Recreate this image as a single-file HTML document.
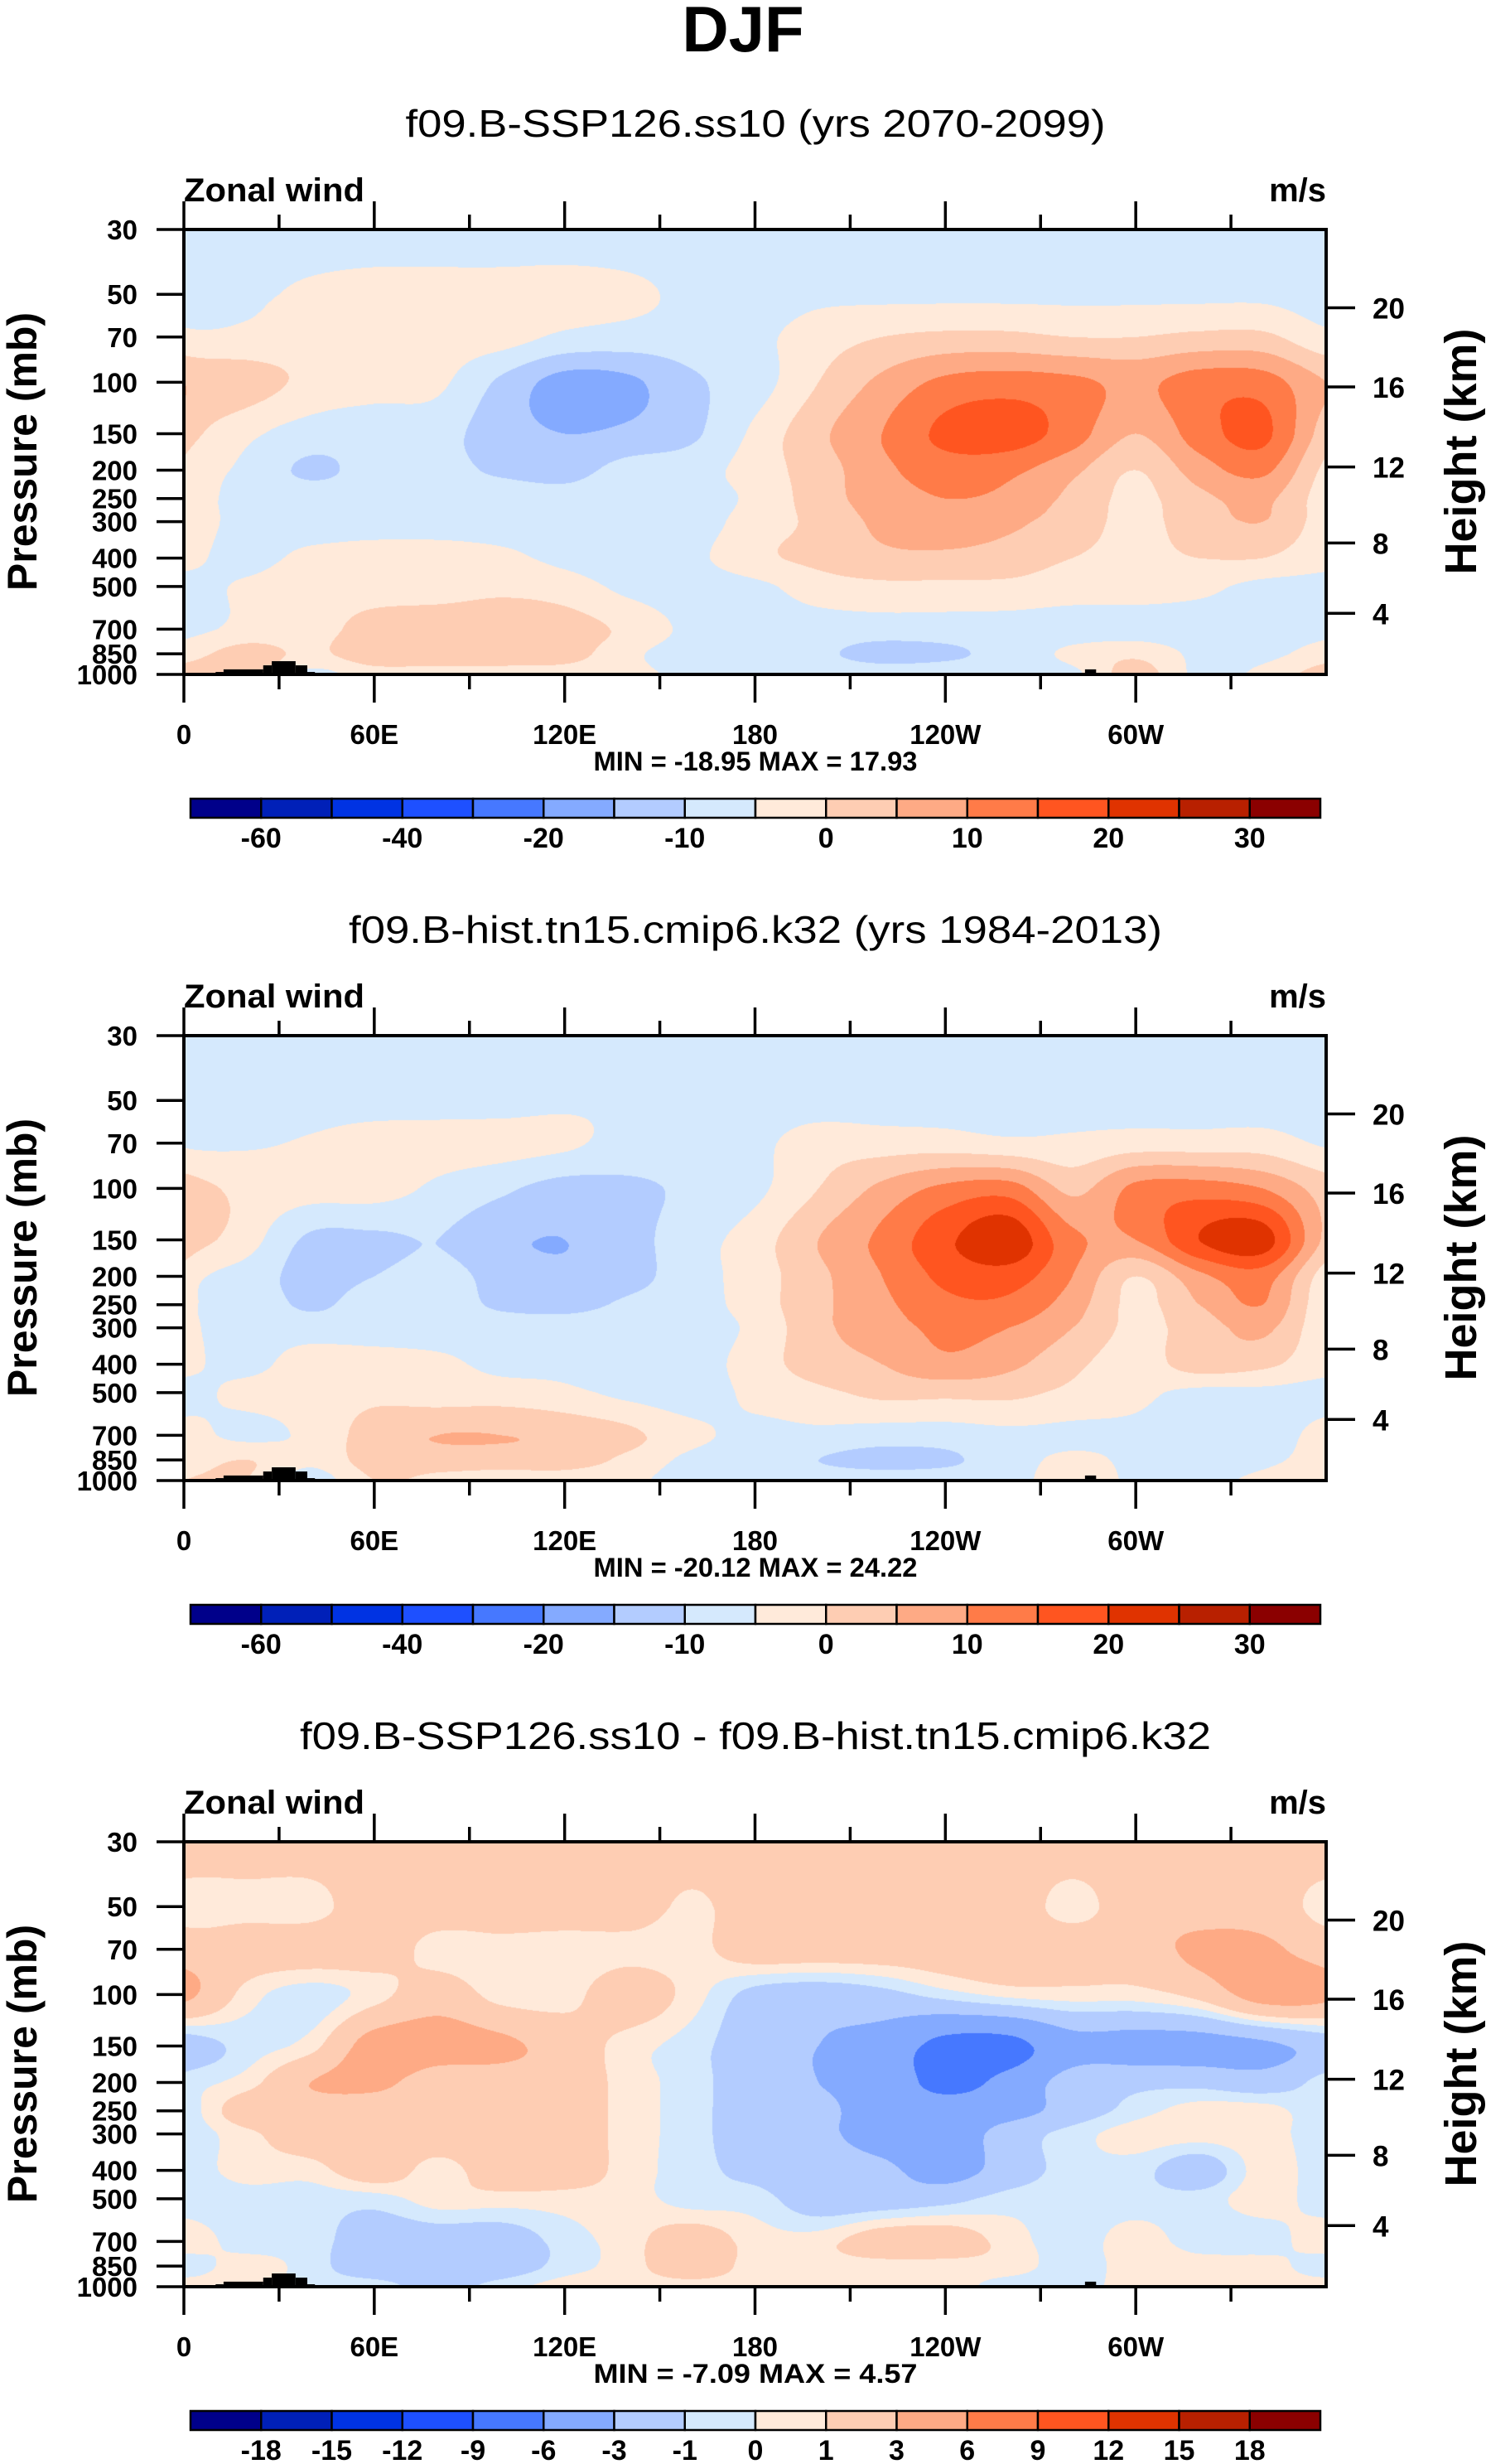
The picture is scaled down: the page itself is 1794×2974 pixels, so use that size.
<!DOCTYPE html>
<html><head><meta charset="utf-8">
<style>
html,body{margin:0;padding:0;background:#fff;}
#root{position:relative;width:1794px;height:2974px;overflow:hidden;background:#fff;}
canvas{position:absolute;}
svg{position:absolute;left:0;top:0;}
text{font-family:"Liberation Sans",sans-serif;fill:#000;}
</style></head>
<body>
<div id="root">
<svg id="svg" width="1794" height="2974">
<text x="897" y="62" font-size="78" font-weight="bold" text-anchor="middle">DJF</text>
</svg>
</div>
<script>
// ---------- data ----------
const lons = [0,20,40,60,80,100,120,140,160,180,200,220,240,260,280,300,320,340,360];
const levels = [30,50,70,100,150,200,250,300,400,500,700,850,1000];
const xTickLabels = ["0","60E","120E","180","120W","60W"];
const xTickLons = [0,60,120,180,240,300];
const kmLabels = ["20","16","12","8","4"];
const kmPressures = [55.6,103.7,195,355,618];

const fieldA = [
[-3,-3,-3,-3,-3,-3,-3,-3,-3,-3,-3,-3,-3,-3,-3,-3,-3,-3,-3],
[-2,-1,1,2,2,2,2,1,-1,-2,-1,-1,-1,-1,-1,-1,-1,-1,-1],
[1,1,2,2,2,2,-1,-2,-2,-1,2,4,5,5,4,4,5,5,4],
[8,6,3,2,1,-6,-12,-11,-6,-2,4,9,13,14,13,11,14,14,10],
[6,1,-2,-3,-3,-8,-10,-9,-6,1,7,12,17,18,14,8,14,17,9],
[3,-1,-6,-3,-3,-6,-7,-3,-2,2,6,11,14,13,9,4,10,13,7],
[2,-1,-2,-2,-2,-2,-3,-2,-2,1,6,10,12,11,7,3,7,9,5],
[2,-1,-2,-2,-2,-2,-2,-2,-2,2,5,9,11,9,6,3,6,8,4],
[1,-1,1,2,2,1,-1,-2,-1,3,5,7,7,6,4,3,4,4,3],
[-1,0.5,2,2,2,3,2,-1,-2,-1,2,3,3,3,2,2,1,-1,-1],
[-1,1,2,6,7,7,6,3,-1,-2,-2,-2,-2,-2,-2,-2,-2,-1,-1],
[2,6,3,7,7,7,6,1,-2,-3,-4,-7,-6,-3,1,3,-1,-1,1],
[6,6,-1,2,2,2,2,1,-1,-2,-2,-2,-2,-2,-1,6,-1,1,2]
];
const fieldB = [
[-3,-3,-3,-3,-3,-3,-3,-3,-3,-3,-3,-3,-3,-3,-3,-3,-3,-3,-3],
[-2,-2,-2,-2,-2,-2,-1,-1,-2,-2,-2,-2,-2,-2,-2,-2,-2,-2,-2],
[-0.5,-0.5,0.5,2,2,2,1,-2,-2,-1,2,2,2,1,1,2,2,2,-0.5],
[6,3,2,2,-1,-4,-7,-6,-4,-1,4,9,13,14,7,13,14,12,7],
[7,2,-6,-6,-5,-9,-10,-7,-2,2,8,13,19,23,13,12,20,22,10],
[2,-2,-7,-5,-3,-7,-9,-7,-2,2,7,12,17,18,12,4,11,14,9],
[1,-1,-6,-2,-2,-6,-7,-4,-2,2,7,11,15,15,10,3,8,12,8],
[1,-1,-2,-2,-2,-2,-2,-2,-2,1,7,10,13,12,8,3,6,9,6],
[1,-1,2,2,1,-1,-1,-2,-2,2,6,8,11,9,5,2,6,5,4],
[-1,1,2,3,2,2,1,-1,-2,1,3,5,5,5,3,1,-1,-1,-1],
[1,-1,1,6,8,8,7,5,1,-1,-1,-2,-2,-1,-1,-1,-2,-2,-1],
[2,4,1,6,6,6,6,3,-1,-2,-5,-7,-6,-2,1,-1,-2,-1,1],
[4,4,-2,4,3,2,2,1,-2,-2,-2,-2,-2,-2,3,-1,-1,1,2]
];
const fieldC = [
[2,2,2,2,2,2,2,2,2,2,2,2,2,2,2,2,2,2,2],
[0.5,0.5,0.5,2,2,2,2,2,0.7,2,2,2,2,2,0.5,2,2,2,0.5],
[2,2,2,2,0.5,0.5,0.3,0.5,0.5,2,2,2,2,2,2,2,3.5,3.5,2],
[3.5,0.5,-0.5,0.5,2,0.5,0.5,2,0.5,-1.5,-2,-1.5,-0.5,0.3,0.5,0.5,1.5,4,3.5],
[-2,-0.5,0.5,4,4,3.5,2,0.5,-0.5,-2,-3,-4,-7,-7,-4,-4,-4,-3.5,-2],
[-0.5,0.5,3,3.5,2,2,2,0.5,-0.5,-2,-3,-4,-7,-5,-2,-1.5,-1.5,-2,-2],
[-0.5,2,2,2,2,2,2,0.5,-0.5,-2,-2.5,-4,-4.5,-4,-2,-0.5,0.5,0.5,-0.5],
[-0.5,0.7,2,2,2,2,2,0.5,-0.5,-2,-2.5,-4,-4.5,-2,-0.5,0.5,0.5,0.5,-0.5],
[-0.5,0.5,0.5,2,0.5,2,2,0.5,-0.5,-1.5,-2,-2.5,-4,-2,-0.5,-0.5,-2,0.5,0.5],
[-0.5,-0.5,-0.5,-0.5,0.5,0.5,0.5,0.5,-0.5,-0.5,-2,-2,-1.5,-0.5,-0.5,-0.5,-0.5,0.5,-0.5],
[0.5,-0.5,-0.5,-2,-2,-2,-0.5,0.5,2,0.5,0.5,2,2,0.5,-0.5,0.5,-0.5,-0.5,-0.5],
[-0.5,0.5,-0.5,-2,-2,-2,-0.5,0.5,2,0.5,0.5,0.5,0.5,0.5,-0.5,0.5,0.5,0.5,-0.5],
[0.5,0.5,-0.5,-0.5,-1.5,-0.5,0.5,0.5,0.5,0.5,0.5,0.5,0.5,-0.5,-0.5,0.5,0.5,0.5,0.5]
];
// shading class boundaries (value -> palette index)
const shadeAB = [-50,-40,-30,-20,-15,-10,-5,0,4,8,12,16,20,25,30];
const labelsAB = ["-60","","-40","","-20","","-10","","0","","10","","20","","30"];
const shadeC = [-18,-15,-12,-9,-6,-3,-1,0,1,3,6,9,12,15,18];
const labelsC = ["-18","-15","-12","-9","-6","-3","-1","0","1","3","6","9","12","15","18"];
const topoStart = [10,12.5,25,27.7,35.2,38.9,99,284,287.5];
const topoEnd = [12.5,25,27.7,35.2,38.9,41.3,101,287.5,310];
const topoPs = [981,961,931,901,931,981,988,961,988];
const titles = ["f09.B-SSP126.ss10 (yrs 2070-2099)","f09.B-hist.tn15.cmip6.k32 (yrs 1984-2013)","f09.B-SSP126.ss10 - f09.B-hist.tn15.cmip6.k32"];
const titleWidths = [845,982,1100];
const minVals = ["-18.95","-20.12","-7.09"];
const maxVals = ["17.93","24.22","4.57"];
const palette = ['#00008A','#0020B8','#0033E3','#1E50FF','#4678FF','#84AAFF','#B3CCFF','#D5E9FD','#FFEADA','#FECDB3','#FEAA85','#FF7B48','#FF5520','#E03300','#B82000','#8B0000'];

// ---------- layout ----------
const PX0=222, PX1=1601, PH=537, PANEL_TOP=[277,1250,2223];
const svg=document.getElementById('svg');
const root=document.getElementById('root');
const NS='http://www.w3.org/2000/svg';
function xOf(lon){return PX0+(lon/360)*(PX1-PX0);}
function yOf(p,top){return top+PH*Math.log(p/30)/Math.log(1000/30);}
function mk(tag,attrs){const e=document.createElementNS(NS,tag);for(const k in attrs)e.setAttribute(k,attrs[k]);svg.appendChild(e);return e;}
function txt(s,x,y,size,bold,anchor){const t=mk('text',{x:x,y:y,'font-size':size,'font-weight':bold?'bold':'normal','text-anchor':anchor||'middle'});t.textContent=s;return t;}
const rgb=palette.map(h=>[parseInt(h.substr(1,2),16),parseInt(h.substr(3,2),16),parseInt(h.substr(5,2),16)]);
function classOf(v,lv){let i=0;while(i<lv.length&&v>=lv[i])i++;return i;}
const logL=levels.map(p=>Math.log(p));
function cr(p0,p1,p2,p3,t){return 0.5*((2*p1)+(-p0+p2)*t+(2*p0-5*p1+4*p2-p3)*t*t+(-p0+3*p1-3*p2+p3)*t*t*t);}

function drawPanel(k,field,lv,lbls){
  const top=PANEL_TOP[k];
  const W=PX1-PX0,H=PH;
  const NC=lons.length-1, NR=levels.length;
  const cv=document.createElement('canvas');
  cv.width=W;cv.height=H;cv.style.left=PX0+'px';cv.style.top=top+'px';
  
  
  root.insertBefore(cv,svg);
  const ctx=cv.getContext('2d');const img=ctx.createImageData(W,H);const d=img.data;
  // interpolate along pressure per row first (cubic), then along longitude
  const rowIdx=[],rowF=[];
  for(let y=0;y<H;y++){
    const lp=Math.log(30)+(y+0.5)/H*Math.log(1000/30);
    let j=0;while(j<NR-2&&lp>logL[j+1])j++;
    rowIdx.push(j);rowF.push(Math.min(1,Math.max(0,(lp-logL[j])/(logL[j+1]-logL[j]))));
  }
  const cl=j=>Math.max(0,Math.min(NR-1,j));
  const wr=i=>((i%NC)+NC)%NC;
  const colVals=[];
  for(let y=0;y<H;y++){
    const j=rowIdx[y],f=rowF[y];const arr=[];
    for(let i=0;i<NC;i++){
      arr.push(cr(field[cl(j-1)][i],field[j][i],field[cl(j+1)][i],field[cl(j+2)][i],f));
    }
    colVals.push(arr);
  }
  for(let x=0;x<W;x++){
    const lon=(x+0.5)/W*360;
    const i=Math.floor(lon/20);const fx=(lon-i*20)/20;
    for(let y=0;y<H;y++){
      const a=colVals[y];
      const v=cr(a[wr(i-1)],a[wr(i)],a[wr(i+1)],a[wr(i+2)],fx);
      const c=rgb[classOf(v,lv)];const o=(y*W+x)*4;
      d[o]=c[0];d[o+1]=c[1];d[o+2]=c[2];d[o+3]=255;
    }
  }
  ctx.putImageData(img,0,0);
  for(let t=0;t<topoStart.length;t++){
    const r=mk('rect',{x:xOf(topoStart[t]),y:yOf(topoPs[t],top),width:xOf(topoEnd[t])-xOf(topoStart[t]),height:top+PH-yOf(topoPs[t],top),fill:'#000'});
    
    
  }
  const fr=mk('rect',{x:PX0,y:top,width:W,height:H,fill:'none',stroke:'#000','stroke-width':4});
  
  
  for(let lon=0;lon<360;lon+=30){
    const maj=lon%60===0;const L=maj?34:18;
    mk('line',{x1:xOf(lon),x2:xOf(lon),y1:top,y2:top-L,stroke:'#000','stroke-width':3.5});
    mk('line',{x1:xOf(lon),x2:xOf(lon),y1:top+H,y2:top+H+L,stroke:'#000','stroke-width':3.5});
  }
  xTickLons.forEach((lon,ii)=>{const t=txt(xTickLabels[ii],xOf(lon),top+621,33,true);
    
    });
  levels.forEach(p=>{
    mk('line',{x1:PX0-33,x2:PX0,y1:yOf(p,top),y2:yOf(p,top),stroke:'#000','stroke-width':3.5});
    const t=txt(String(p),166,yOf(p,top)+12,33,true,'end');
    
    
  });
  kmPressures.forEach((p,ii)=>{
    mk('line',{x1:PX1,x2:PX1+35,y1:yOf(p,top),y2:yOf(p,top),stroke:'#000','stroke-width':3.5});
    const t=txt(kmLabels[ii],1657,yOf(p,top)+13,35,true,'start');
    
    
  });
  const st=txt(titles[k],912,top-112,46,false);st.setAttribute('textLength',titleWidths[k]);st.setAttribute('lengthAdjust','spacingAndGlyphs');
  
  
  const zw=txt('Zonal wind',PX0,top-34,40,true,'start');zw.setAttribute('textLength',218);zw.setAttribute('lengthAdjust','spacingAndGlyphs');
  
  
  const ms=txt('m/s',PX1,top-34,40,true,'end');
  
  
  const py=top+268;
  const pt=txt('Pressure (mb)',0,0,50,true);pt.setAttribute('transform','translate(44,'+py+') rotate(-90)');
  
  
  const ht=txt('Height (km)',0,0,54,true);ht.setAttribute('transform','translate(1782,'+py+') rotate(-90)');
  
  
  const mm=txt('MIN = '+minVals[k]+'  MAX =  '+maxVals[k],912,top+653,32,true);mm.setAttribute('textLength',391);mm.setAttribute('lengthAdjust','spacingAndGlyphs');mm.setAttribute('xml:space','preserve');
  
  
  const cb0=230,cb1=1594,cbT=top+687,cbH=23,bw=(cb1-cb0)/palette.length;
  palette.forEach((c,ii)=>{const r=mk('rect',{x:cb0+ii*bw,y:cbT,width:bw,height:cbH,fill:c,stroke:'#000','stroke-width':2.5});
    
    });
  lbls.forEach((s,ii)=>{if(!s)return;const t=txt(s,cb0+(ii+1)*bw,top+746,34,true);
    
    });
}
drawPanel(0,fieldA,shadeAB,labelsAB);
drawPanel(1,fieldB,shadeAB,labelsAB);
drawPanel(2,fieldC,shadeC,labelsC);
</script>
</body></html>
